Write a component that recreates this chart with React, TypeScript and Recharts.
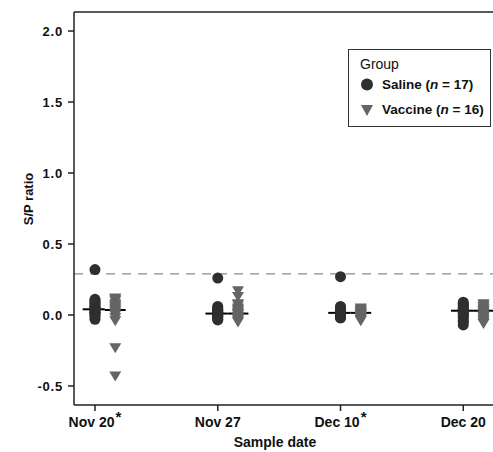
import { ScatterChart, Scatter, XAxis, YAxis, ReferenceLine } from 'recharts'

const DATES = ['Nov 20', 'Nov 27', 'Dec 10', 'Dec 20']
const STARRED = ['Nov 20', 'Dec 10']

// S/P ratio per animal, one list per sample date
const SALINE = [
  [0.32, 0.11, 0.10, 0.09, 0.08, 0.07, 0.06, 0.05, 0.05, 0.04, 0.03, 0.02, 0.02, 0.01, 0.00, -0.01, -0.03],
  [0.26, 0.06, 0.05, 0.04, 0.03, 0.03, 0.02, 0.02, 0.01, 0.01, 0.00, 0.00, -0.01, -0.01, -0.02, -0.03, -0.035],
  [0.27, 0.06, 0.05, 0.04, 0.03, 0.03, 0.02, 0.02, 0.01, 0.01, 0.01, 0.00, 0.00, -0.01, -0.01, -0.02, -0.02],
  [0.09, 0.08, 0.07, 0.06, 0.05, 0.04, 0.04, 0.03, 0.03, 0.02, 0.01, 0.00, -0.01, -0.02, -0.04, -0.05, -0.07],
]
const VACCINE = [
  [0.12, 0.11, 0.10, 0.08, 0.07, 0.06, 0.05, 0.04, 0.03, 0.02, 0.01, 0.00, -0.02, -0.04, -0.23, -0.43],
  [0.17, 0.13, 0.08, 0.07, 0.05, 0.04, 0.03, 0.02, 0.01, 0.01, 0.00, -0.01, -0.02, -0.03, -0.04, -0.05],
  [0.05, 0.04, 0.03, 0.03, 0.02, 0.02, 0.01, 0.01, 0.00, 0.00, -0.01, -0.01, -0.02, -0.03, -0.03, -0.04],
  [0.08, 0.07, 0.06, 0.05, 0.04, 0.03, 0.03, 0.02, 0.01, 0.00, -0.01, -0.02, -0.03, -0.04, -0.05, -0.06],
]
const SALINE_MEDIAN = [0.04, 0.01, 0.015, 0.03]
const VACCINE_MEDIAN = [0.035, 0.01, 0.015, 0.03]
const CUTOFF = 0.29
const Y_TICKS = [-0.5, 0, 0.5, 1.0, 1.5, 2.0]

const VAX_OFFSET = 0.165
const X_DOMAIN = [-0.171, 3.34]
const Y_DOMAIN = [-0.634, 2.134]

const FONT = '"Liberation Sans", Arial, sans-serif'
const SALINE_COLOR = '#2f2f2f'
const VACCINE_COLOR = '#656565'

const salinePts = SALINE.flatMap((vals, i) => vals.map(y => ({ x: i, y })))
const vaccinePts = VACCINE.flatMap((vals, i) => vals.map(y => ({ x: i + VAX_OFFSET, y })))

const Dot = (p: any) => <circle cx={p.cx} cy={p.cy} r={5.5} fill={SALINE_COLOR} />
const Tri = (p: any) => (
  <path d={`M${p.cx - 6},${p.cy - 4.5} L${p.cx + 6},${p.cy - 4.5} L${p.cx},${p.cy + 5.5} Z`} fill={VACCINE_COLOR} />
)

const DateTick = (p: any) => {
  const label = DATES[p.payload.value]
  return (
    <text x={p.x} y={p.y} dy={14} textAnchor="middle" fontFamily={FONT} fontSize={14} fontWeight="bold" fill="#111">
      {label}
      {STARRED.includes(label) && <tspan dx={1} dy={-5} fontSize={15}>*</tspan>}
    </text>
  )
}

const GroupLegend = () => (
  <svg width={144} height={79} style={{ position: 'absolute', left: 348, top: 49 }}>
    <rect x={0.5} y={0.5} width={142} height={77} fill="#fff" stroke="#333" strokeWidth={1} />
    <text x={12} y={20} fontFamily={FONT} fontSize={14} fill="#111">Group</text>
    <circle cx={19} cy={35.5} r={6} fill={SALINE_COLOR} />
    <text x={34} y={40} fontFamily={FONT} fontSize={13.5} fontWeight="bold" fill="#111">
      Saline (<tspan fontStyle="italic">n</tspan> = 17)
    </text>
    <path d="M13,56 L25,56 L19,67 Z" fill={VACCINE_COLOR} />
    <text x={34} y={65} fontFamily={FONT} fontSize={13.5} fontWeight="bold" fill="#111">
      Vaccine (<tspan fontStyle="italic">n</tspan> = 16)
    </text>
  </svg>
)

export default function App() {
  return (
    <div style={{ position: 'absolute', left: 0, top: 0, width: 493, height: 452, overflow: 'hidden', background: '#fff' }}>
      <ScatterChart width={505} height={452} margin={{ top: 12, right: 0, bottom: 0, left: 0 }}>
        <XAxis
          dataKey="x"
          type="number"
          domain={X_DOMAIN}
          ticks={[0, 1, 2, 3]}
          tick={DateTick}
          tickSize={6}
          tickMargin={2}
          height={47}
          stroke="#222"
          strokeWidth={1.5}
          allowDataOverflow
          label={{ value: 'Sample date', content: () => (
            <text x={275} y={447} textAnchor="middle" fontFamily={FONT} fontSize={14} fontWeight="bold" fill="#111">Sample date</text>
          ) }}
        />
        <YAxis
          dataKey="y"
          type="number"
          domain={Y_DOMAIN}
          ticks={Y_TICKS}
          tickFormatter={(v: number) => v.toFixed(1)}
          tick={{ fontFamily: FONT, fontSize: 13, fontWeight: 'bold', fill: '#111', letterSpacing: 0.8 }}
          tickSize={6}
          tickMargin={5}
          width={74}
          stroke="#222"
          strokeWidth={1.5}
          allowDataOverflow
          label={{ value: 'S/P ratio', content: () => (
            <text x={0} y={0} transform="translate(33,199) rotate(-90)" textAnchor="middle" fontFamily={FONT} fontSize={13} fontWeight="bold" fill="#111">S/P ratio</text>
          ) }}
        />
        <ReferenceLine y={Y_DOMAIN[1]} stroke="#222" strokeWidth={1.5} />
        <ReferenceLine y={CUTOFF} stroke="#8a8a8a" strokeWidth={1.3} strokeDasharray="9 7" />
        <Scatter data={salinePts} shape={Dot} isAnimationActive={false} />
        <Scatter data={vaccinePts} shape={Tri} isAnimationActive={false} />
        {DATES.map((d, i) => (
          <ReferenceLine
            key={`s-${d}`}
            segment={[{ x: i - 0.1, y: SALINE_MEDIAN[i] }, { x: i + 0.08, y: SALINE_MEDIAN[i] }]}
            stroke="#000"
            strokeWidth={2}
          />
        ))}
        {DATES.map((d, i) => (
          <ReferenceLine
            key={`v-${d}`}
            segment={[{ x: i + 0.08, y: VACCINE_MEDIAN[i] }, { x: i + 0.25, y: VACCINE_MEDIAN[i] }]}
            stroke="#000"
            strokeWidth={2}
          />
        ))}
      </ScatterChart>
      <GroupLegend />
    </div>
  )
}
